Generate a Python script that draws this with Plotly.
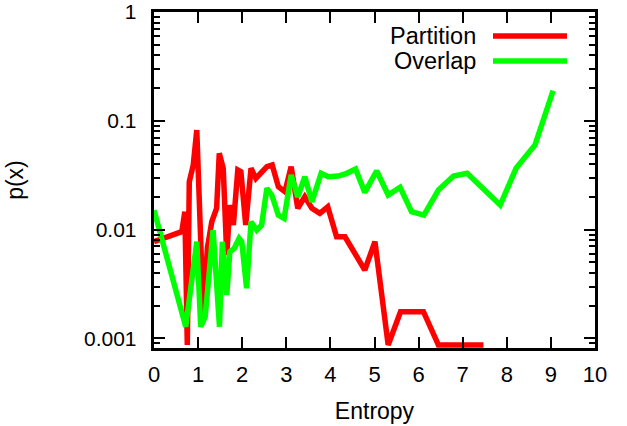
import plotly.graph_objects as go

# Partition series
part_x = [0.0, 0.63, 0.70, 0.755, 0.80, 0.89, 0.97, 1.12, 1.21, 1.31, 1.42, 1.48, 1.57,
          1.65, 1.72, 1.80, 1.90, 1.97, 2.08, 2.20, 2.31, 2.44, 2.56, 2.68, 2.82, 2.97,
          3.11, 3.26, 3.42, 3.58, 3.76, 3.94, 4.14, 4.33, 4.78, 5.01, 5.31, 5.59, 6.11,
          6.45, 7.47]
part_y = [0.00774, 0.00957, 0.0146, 0.00087, 0.0275, 0.0392, 0.0823, 0.0016, 0.00673,
          0.0118, 0.0157, 0.0503, 0.0366, 0.00584, 0.0168, 0.0110, 0.0353, 0.034, 0.0110,
          0.0366, 0.0296, 0.034, 0.0379, 0.0392, 0.0248, 0.0223, 0.0379, 0.0157, 0.020,
          0.0157, 0.0141, 0.0162, 0.0086, 0.0086, 0.00425, 0.00774, 0.00087, 0.00176,
          0.00176, 0.00087, 0.00087]

# Overlap series
over_x = [0.0, 0.72, 0.97, 1.06, 1.16, 1.34, 1.485, 1.55, 1.65, 1.72, 1.82, 1.93, 1.99,
          2.10, 2.20, 2.33, 2.44, 2.56, 2.67, 2.82, 2.95, 3.11, 3.26, 3.42, 3.58, 3.79,
          3.95, 4.18, 4.37, 4.57, 4.78, 5.05, 5.31, 5.58, 5.84, 6.12, 6.45, 6.79, 7.10,
          7.85, 8.21, 8.64, 9.05]
over_y = [0.0151, 0.00128, 0.00774, 0.00128, 0.00158, 0.0099, 0.00128, 0.00774, 0.00251,
          0.00627, 0.00673, 0.0083, 0.00774, 0.00289, 0.0118, 0.0099, 0.0110, 0.024,
          0.0208, 0.0136, 0.0127, 0.0318, 0.020, 0.0306, 0.018, 0.0329, 0.0306, 0.0311,
          0.0329, 0.036, 0.022, 0.0346, 0.0208, 0.0245, 0.0146, 0.0136, 0.0231, 0.0311,
          0.0329, 0.0168, 0.0366, 0.060, 0.189]

x_ticks = [0, 1, 2, 3, 4, 5, 6, 7, 8, 9, 10]
y_ticks = [0.001, 0.01, 0.1, 1]
y_tick_text = ["0.001", "0.01", "0.1", "1"]
y_minor = [m * d for d in (0.0001, 0.001, 0.01, 0.1) for m in range(2, 10)]
y_minor = [v for v in y_minor if v > 0.00082]

RED = "#ff0000"
GREEN = "#00ff00"
FONT = "Liberation Sans, Arial, sans-serif"

# trailing en-space keeps the labels clear of the axis (like gnuplot's offset)
y_tick_labels = [t + "\u2002" for t in y_tick_text]

fig = go.Figure()
fig.add_trace(go.Scatter(x=part_x, y=part_y, mode="lines", name="Partition",
                         line=dict(color=RED, width=5.5), showlegend=False))
fig.add_trace(go.Scatter(x=over_x, y=over_y, mode="lines", name="Overlap",
                         line=dict(color=GREEN, width=5.5), showlegend=False))
# invisible trace to carry the minor-tick overlay axis
fig.add_trace(go.Scatter(x=[None], y=[None], yaxis="y2", showlegend=False))

yr = [-3.088, 0.0]
fig.update_layout(
    width=627, height=426,
    margin=dict(l=154, r=32, t=12, b=78),
    paper_bgcolor="white", plot_bgcolor="white",
    font=dict(family=FONT, size=22, color="black"),
    xaxis=dict(range=[0, 10], tickvals=x_ticks, ticks="inside", ticklen=11,
               tickwidth=1.5, tickcolor="black", showline=True, linecolor="black",
               linewidth=2.5, mirror="ticks", showgrid=False, zeroline=False,
               automargin=False, ticklabelstandoff=5, ticklabeloverflow="allow",
               title=dict(text="Entropy", standoff=17, font=dict(size=23)),
               tickfont=dict(size=22)),
    yaxis=dict(type="log", range=yr, tickvals=y_ticks, ticktext=y_tick_labels,
               ticks="inside", ticklen=11, tickwidth=1.5, tickcolor="black",
               showline=True, linecolor="black", linewidth=2.5, mirror="ticks",
               showgrid=False, zeroline=False,
               automargin=False, ticklabeloverflow="allow",
               title=dict(text="p(x)", standoff=54, font=dict(size=23)),
               tickfont=dict(size=21)),
    yaxis2=dict(type="log", range=yr, overlaying="y", tickvals=y_minor,
                ticks="inside", ticklen=6, tickwidth=1.5, tickcolor="black",
                showticklabels=False, mirror="ticks", showline=False,
                showgrid=False, zeroline=False, automargin=False),
)

# gnuplot-style key: text on the left, line sample on the right
key_items = [("Partition", RED, 0.9286), ("Overlap", GREEN, 0.8542)]
for label, col, yp in key_items:
    fig.add_annotation(xref="paper", yref="paper", x=0.7347, y=yp, text=label,
                       showarrow=False, xanchor="right", yanchor="middle",
                       font=dict(size=23.5, family=FONT))
    fig.add_shape(type="line", xref="paper", yref="paper", x0=0.7687, x1=0.9365,
                  y0=yp, y1=yp, line=dict(color=col, width=5.5))

fig.write_html("out.html", config={"displayModeBar": False},
               post_script="document.body.style.margin='0';document.body.style.overflow='hidden';")
